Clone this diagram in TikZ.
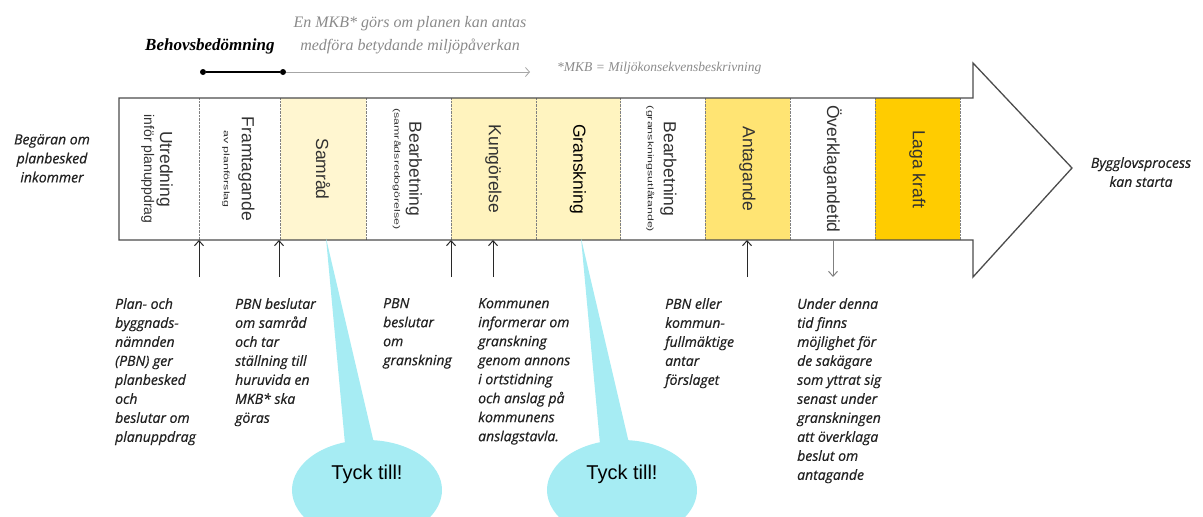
\documentclass[tikz,border=0pt]{standalone}
\usepackage{fontspec}
\usepackage{graphicx}
\usetikzlibrary{shapes.callouts,arrows.meta}
\newfontfamily\fasfont{Liberation Sans}
\newfontfamily\notfont{Open Sans}[ItalicFeatures={FakeBold=0.6}]
\newfontfamily\serfont{Liberation Serif}
\definecolor{samradgul}{RGB}{255,246,208}
\definecolor{kunggul}{RGB}{255,243,190}
\definecolor{granskgul}{RGB}{255,244,192}
\definecolor{antaggul}{RGB}{255,228,115}
\definecolor{lagagul}{RGB}{255,204,0}
\definecolor{tyckbla}{RGB}{166,236,243}
\definecolor{fastext}{RGB}{50,50,50}
\definecolor{nottext}{RGB}{34,34,34}
\definecolor{mkbgra}{RGB}{138,138,138}
\definecolor{pilgra}{RGB}{40,40,40}
\newcommand{\liten}[1]{\scalebox{1.55}[1]{\fontsize{8}{8}\selectfont #1}}

\begin{document}
\begin{tikzpicture}
  [x=1pt,y=-1pt,
   fas/.style={rotate=-90,minimum width=142pt,minimum height=85pt,inner sep=0pt,align=center,text=fastext,font=\fasfont\fontsize{17.5}{18}\selectfont},
   notat/.style={anchor=north west,inner sep=0pt,align=left,text=nottext,font=\notfont\itshape\fontsize{14}{19}\selectfont},
   pil/.style={draw=pilgra,line width=1pt,-{Straight Barb[length=5pt,width=9pt]}},
   prick/.style={circle,fill=black,inner sep=0pt,minimum size=6pt},
   ram/.style={draw=gray!60!black,line width=1.3pt},
   tyck/.style={ellipse callout,fill=tyckbla,minimum width=150pt,minimum height=100pt,inner sep=0pt,callout pointer arc=22,text height=15pt,text depth=37pt,font=\fasfont\fontsize{20}{20}\selectfont}]
  \useasboundingbox (0,0) rectangle (1203,517);

  % faser i pilen
  \node[fas] (utr) at (157,169) {Utredning\\[-2pt]{\fontsize{14}{14}\selectfont inför planuppdrag}};
  \node[fas] (fram) at (238.5,169) {Framtagande\\\liten{av planförslag}};
  \node[fas,fill=samradgul] (samrad) at (323,169) {Samråd};
  \node[fas] (bearb1) at (407.5,169) {Bearbetning\\[-3pt]\liten{(samrådsredogörelse)}};
  \node[fas,fill=kunggul] (kung) at (493.5,169) {Kungörelse};
  \node[fas,fill=granskgul,text=black] (gransk) at (578,169) {Granskning};
  \node[fas] (bearb2) at (661.5,169) {Bearbetning\\[-2pt]\liten{(granskningsutlåtande)}};
  \node[fas,fill=antaggul] (antag) at (747.5,169) {Antagande};
  \node[fas] (overkl) at (832.5,169) {Överklagandetid};
  \node[fas,fill=lagagul] (laga) at (917.5,169) {Laga kraft};

  \foreach \x in {199,280,366,451,536,620,705,790,875,960}
    \draw[gray,densely dotted] (\x,98) -- (\x,240);

  \draw[ram] (119,98) -- (973,98) -- (973,63) -- (1072,168) -- (973,277) -- (973,240) -- (119,240) -- cycle;

  % pilar under
  \foreach \n/\x in {g1/199,g2/279,g3/451,g4/493,g5/747,g6/833}
    \coordinate (\n) at (\x,240);
  \foreach \n in {g1,g2,g3,g4,g5}
    \draw[pil] ([yshift=-37pt]\n) -- (\n);
  \draw[pil,draw=gray] (g6) -- ([yshift=-37pt]g6);

  % behovsbedomning
  \node[prick] (bh1) at (203,72) {};
  \node[prick] (bh2) at (283,72) {};
  \coordinate (mkb) at (530,72);
  \draw[line width=1.5pt] (bh1) -- (bh2);
  \draw[draw=gray!70,line width=0.8pt,-{Straight Barb[length=4pt,width=9pt]}] (bh2) -- (mkb);
  \node[anchor=base west,inner sep=0pt,font=\serfont\bfseries\itshape\fontsize{17}{17}\selectfont] (behov) at (145,50) {Behovsbedömning};
  \node[anchor=north,inner sep=0pt,align=center,text=mkbgra,font=\serfont\itshape\fontsize{16}{23}\selectfont] (mkbtext) at (410,16) {En MKB* görs om planen kan antas\\medföra betydande miljöpåverkan};
  \node[anchor=base west,inner sep=0pt,text=mkbgra,font=\serfont\itshape\fontsize{13.5}{14}\selectfont] (mkbfot) at (557,71) {*MKB = Miljökonsekvensbeskrivning};

  \node[notat,anchor=north,align=center] (begaran) at (52,134) {Begäran om\\planbesked\\inkommer};
  \node[notat,anchor=north,align=center] (bygglov) at (1141,157) {Bygglovsprocess\\kan starta};

  % texter under
  \node[notat] (plan) at (115,298) {Plan- och\\byggnads-\\nämnden\\(PBN) ger\\planbesked\\och\\beslutar om\\planuppdrag};
  \node[notat] (samr) at (235,298) {PBN beslutar\\om samråd\\och tar\\ställning till\\huruvida en\\MKB* ska\\göras};
  \node[notat] (besl) at (383,298) {PBN\\beslutar\\om\\granskning};
  \node[notat] (komm) at (478,298) {Kommunen\\informerar om\\granskning\\genom annons\\i ortstidning\\och anslag på\\kommunens\\anslagstavla.};
  \node[notat] (pbn) at (665,298) {PBN eller\\kommun-\\fullmäktige\\antar\\förslaget};
  \node[notat] (under) at (797,298) {Under denna\\tid finns\\möjlighet för\\de sakägare\\som yttrat sig\\senast under\\granskningen\\att överklaga\\beslut om\\antagande};

  \begin{scope}
    \clip (0,0) rectangle (1203,517);
    \coordinate (c1) at (326,238);
    \coordinate (c2) at (581,238);
    \node[tyck,callout absolute pointer={(c1)}] (tyck1) at (367,490) {Tyck till!};
    \node[tyck,callout absolute pointer={(c2)}] (tyck2) at (622,490) {Tyck till!};
  \end{scope}
\end{tikzpicture}
\end{document}
